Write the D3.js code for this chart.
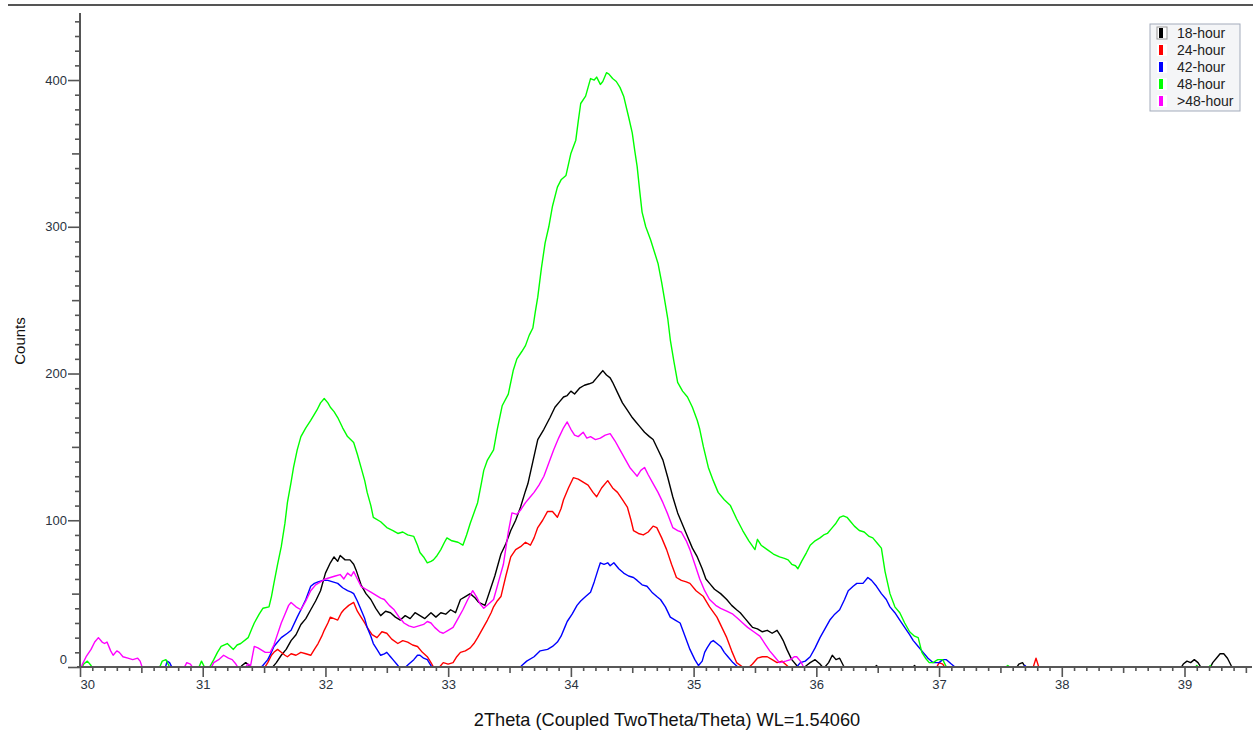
<!DOCTYPE html>
<html>
<head>
<meta charset="utf-8">
<script src="https://cdn.jsdelivr.net/npm/d3@7"></script>
<style>
  body { margin: 0; background: #fff; }
  svg { display: block; font-family: "Liberation Sans", Arial, sans-serif; }
</style>
</head>
<body>
<div id="chart"></div>
<script>
// XRD scans, [2theta, counts]; negative values fall below the axis and are clipped
const hour18 = [[30.0,-4],[31.28,-3],[31.32,1],[31.35,3],[31.38,1],[31.42,-3],[31.55,-2],[31.6,3],[31.64,8],[31.68,12],[31.72,18],[31.76,22],[31.8,29],[31.84,33],[31.88,39],[31.92,45],[31.96,52],[32.0,64],[32.04,71],[32.07,75],[32.1,72],[32.12,76],[32.16,73],[32.2,73],[32.23,70],[32.25,66],[32.29,56],[32.33,50],[32.37,46],[32.41,40],[32.45,35],[32.49,38],[32.53,37],[32.57,34],[32.61,32],[32.65,35],[32.69,33],[32.73,37],[32.77,35],[32.81,33],[32.86,37],[32.9,34],[32.94,37],[32.98,36],[33.02,39],[33.06,37],[33.1,46],[33.14,48],[33.18,50],[33.22,47],[33.25,44],[33.3,42],[33.34,52],[33.38,62],[33.43,77],[33.47,84],[33.51,93],[33.55,100],[33.59,109],[33.63,120],[33.65,125],[33.69,140],[33.73,155],[33.78,162],[33.83,170],[33.87,177],[33.91,181],[33.94,184],[33.97,185],[34.0,188],[34.03,186],[34.07,190],[34.11,192],[34.15,193],[34.18,194],[34.21,197],[34.24,200],[34.26,202],[34.29,199],[34.32,197],[34.34,194],[34.38,187],[34.42,180],[34.46,175],[34.5,170],[34.53,167],[34.56,164],[34.6,160],[34.64,157],[34.67,155],[34.71,148],[34.75,141],[34.79,129],[34.83,116],[34.87,105],[34.91,97],[34.95,89],[34.99,81],[35.03,75],[35.07,67],[35.1,60],[35.13,57],[35.17,53],[35.22,50],[35.27,46],[35.31,42],[35.35,39],[35.38,37],[35.42,33],[35.46,29],[35.48,27],[35.52,26],[35.56,24],[35.6,25],[35.64,23],[35.68,25],[35.71,21],[35.73,18],[35.76,12],[35.8,5],[35.84,1],[35.88,-2],[35.92,1],[35.95,3],[35.99,5],[36.03,2],[36.06,-1],[36.1,3],[36.13,8],[36.16,5],[36.19,6],[36.22,1],[36.25,-3],[36.46,-2],[36.49,1],[36.52,-2],[36.77,-2],[36.8,1],[36.83,-2],[37.62,-2],[37.65,2],[37.68,3],[37.71,-1],[38.96,-2],[38.99,2],[39.02,4],[39.05,3],[39.08,5],[39.11,3],[39.14,-1],[39.2,-2],[39.23,3],[39.26,6],[39.29,9],[39.32,9],[39.35,6],[39.38,1],[39.41,-3],[39.55,-4]];

const hour24 = [[30.0,-4],[31.45,-3],[31.5,-1],[31.53,3],[31.56,8],[31.58,10],[31.61,12],[31.64,10],[31.67,8],[31.69,7],[31.72,9],[31.76,8],[31.8,10],[31.84,9],[31.88,8],[31.91,12],[31.94,16],[31.97,21],[31.99,25],[32.02,30],[32.04,34],[32.07,33],[32.1,32],[32.13,37],[32.15,39],[32.19,42],[32.23,44],[32.26,38],[32.29,34],[32.32,30],[32.34,27],[32.38,22],[32.42,20],[32.46,24],[32.5,23],[32.54,19],[32.59,16],[32.63,18],[32.67,17],[32.71,15],[32.75,14],[32.79,10],[32.83,7],[32.86,3],[32.88,0],[32.91,-2],[32.93,0],[32.96,3],[33.0,2],[33.04,3],[33.07,7],[33.1,10],[33.14,11],[33.18,13],[33.21,16],[33.24,20],[33.28,26],[33.32,32],[33.35,37],[33.37,41],[33.4,45],[33.43,48],[33.47,62],[33.51,75],[33.55,80],[33.59,82],[33.63,85],[33.67,83],[33.7,88],[33.73,95],[33.77,100],[33.81,106],[33.85,106],[33.89,102],[33.92,108],[33.94,114],[33.98,122],[34.02,129],[34.06,128],[34.1,126],[34.14,124],[34.18,119],[34.21,116],[34.25,122],[34.3,127],[34.34,122],[34.38,119],[34.42,114],[34.46,109],[34.49,100],[34.51,93],[34.55,91],[34.59,90],[34.63,92],[34.67,96],[34.7,95],[34.74,88],[34.78,80],[34.82,70],[34.86,61],[34.9,59],[34.94,58],[34.97,57],[35.02,52],[35.08,48],[35.13,41],[35.19,34],[35.23,27],[35.27,20],[35.31,11],[35.35,3],[35.4,0],[35.44,-1],[35.48,2],[35.52,6],[35.56,7],[35.6,7],[35.64,5],[35.68,3],[35.72,4],[35.76,1],[35.8,-2],[36.97,-2],[37.0,3],[37.03,2],[37.06,-2],[37.76,-2],[37.79,6],[37.82,-2],[39.55,-4]];

const hour42 = [[30.0,-4],[30.69,-2],[30.71,4],[30.73,3],[30.76,-2],[31.45,-2],[31.49,1],[31.53,5],[31.56,10],[31.58,14],[31.61,17],[31.64,20],[31.69,23],[31.72,25],[31.77,34],[31.8,39],[31.84,46],[31.88,55],[31.91,57],[31.94,58],[31.98,59],[32.02,59],[32.06,58],[32.1,57],[32.14,54],[32.18,52],[32.21,51],[32.23,50],[32.26,45],[32.29,39],[32.32,33],[32.34,27],[32.37,21],[32.39,16],[32.42,12],[32.45,8],[32.48,9],[32.5,10],[32.53,7],[32.55,5],[32.58,2],[32.61,-1],[32.64,-1],[32.68,2],[32.72,5],[32.75,8],[32.77,8],[32.8,6],[32.83,5],[32.86,1],[32.88,-2],[32.92,-4],[33.57,-2],[33.6,1],[33.64,4],[33.7,7],[33.75,11],[33.81,12],[33.85,14],[33.89,17],[33.92,21],[33.95,27],[33.97,31],[34.01,36],[34.05,42],[34.08,45],[34.12,48],[34.16,51],[34.19,58],[34.22,66],[34.24,71],[34.27,70],[34.3,71],[34.32,69],[34.35,71],[34.39,67],[34.43,64],[34.47,62],[34.51,61],[34.54,59],[34.58,56],[34.62,55],[34.66,51],[34.7,48],[34.73,46],[34.77,41],[34.81,34],[34.85,32],[34.89,30],[34.93,21],[34.97,12],[35.01,5],[35.04,1],[35.07,4],[35.09,10],[35.11,13],[35.14,17],[35.16,18],[35.19,16],[35.22,14],[35.25,10],[35.28,7],[35.32,3],[35.36,0],[35.39,-2],[35.82,-2],[35.85,1],[35.87,3],[35.91,4],[35.95,7],[35.99,13],[36.03,20],[36.07,26],[36.11,32],[36.15,36],[36.19,39],[36.23,46],[36.26,52],[36.3,55],[36.33,57],[36.38,57],[36.42,61],[36.45,59],[36.49,55],[36.53,50],[36.57,46],[36.6,41],[36.64,37],[36.68,32],[36.72,27],[36.76,22],[36.79,18],[36.83,14],[36.87,10],[36.91,6],[36.95,3],[37.0,3],[37.03,5],[37.06,5],[37.1,2],[37.13,0],[37.16,-3],[37.68,-1],[37.7,1],[37.72,-1],[39.55,-4]];

const hour48 = [[30.0,-3],[30.03,2],[30.06,4],[30.09,1],[30.12,-3],[30.64,-2],[30.67,4],[30.7,5],[30.73,0],[30.76,-3],[30.96,-2],[30.99,4],[31.02,-1],[31.05,-1],[31.09,5],[31.12,10],[31.15,14],[31.2,16],[31.25,12],[31.28,15],[31.31,16],[31.37,20],[31.4,26],[31.42,30],[31.46,36],[31.49,40],[31.54,41],[31.56,48],[31.58,57],[31.61,70],[31.64,82],[31.67,98],[31.69,112],[31.72,126],[31.74,136],[31.77,148],[31.8,157],[31.84,163],[31.88,168],[31.93,175],[31.96,180],[31.99,183],[32.02,180],[32.04,177],[32.07,174],[32.1,170],[32.14,163],[32.18,157],[32.23,153],[32.26,145],[32.29,136],[32.32,127],[32.34,119],[32.37,110],[32.39,102],[32.45,99],[32.5,95],[32.55,93],[32.59,91],[32.63,92],[32.67,90],[32.72,89],[32.75,83],[32.77,78],[32.8,75],[32.83,71],[32.86,72],[32.88,73],[32.91,76],[32.94,80],[32.97,85],[32.99,88],[33.03,86],[33.08,85],[33.12,83],[33.15,90],[33.18,98],[33.21,105],[33.24,112],[33.27,125],[33.29,134],[33.32,141],[33.37,148],[33.4,162],[33.44,178],[33.49,186],[33.53,202],[33.56,210],[33.6,215],[33.63,219],[33.66,226],[33.69,231],[33.71,242],[33.73,252],[33.76,272],[33.79,289],[33.82,300],[33.85,314],[33.89,327],[33.92,332],[33.96,335],[34.0,350],[34.04,359],[34.06,372],[34.08,384],[34.12,389],[34.14,395],[34.16,401],[34.19,400],[34.21,402],[34.24,397],[34.26,399],[34.29,405],[34.31,404],[34.34,401],[34.37,399],[34.4,395],[34.43,389],[34.47,375],[34.5,364],[34.52,352],[34.54,341],[34.56,325],[34.58,310],[34.61,300],[34.65,291],[34.68,283],[34.71,275],[34.74,262],[34.76,252],[34.79,237],[34.81,223],[34.84,208],[34.87,194],[34.91,188],[34.95,184],[34.99,177],[35.03,168],[35.05,162],[35.08,150],[35.12,136],[35.16,127],[35.2,119],[35.25,114],[35.3,110],[35.35,101],[35.4,93],[35.45,86],[35.5,80],[35.52,87],[35.55,83],[35.6,80],[35.65,77],[35.7,75],[35.74,74],[35.77,73],[35.8,70],[35.83,69],[35.85,67],[35.88,72],[35.92,78],[35.95,83],[35.99,86],[36.03,88],[36.06,90],[36.09,91],[36.13,95],[36.16,98],[36.19,102],[36.22,103],[36.25,102],[36.28,99],[36.31,96],[36.35,93],[36.39,92],[36.43,89],[36.46,88],[36.5,84],[36.53,81],[36.56,65],[36.6,50],[36.64,41],[36.68,37],[36.72,30],[36.76,24],[36.8,21],[36.83,20],[36.86,10],[36.89,6],[36.92,3],[36.95,3],[36.99,5],[37.03,5],[37.06,0],[37.09,-3],[37.53,-1],[37.56,1],[37.59,-1],[39.08,-1],[39.1,1],[39.12,-1],[39.19,-1],[39.21,1],[39.23,-1],[39.55,-4]];

const hour48plus = [[30.0,-3],[30.02,2],[30.05,7],[30.09,12],[30.12,17],[30.15,20],[30.18,17],[30.2,16],[30.22,17],[30.25,11],[30.27,8],[30.3,11],[30.32,10],[30.35,7],[30.39,6],[30.43,5],[30.47,6],[30.49,4],[30.51,-1],[30.54,-3],[30.84,-2],[30.87,3],[30.9,2],[30.93,-2],[31.06,-2],[31.09,3],[31.13,5],[31.17,8],[31.21,6],[31.24,5],[31.27,2],[31.3,-2],[31.34,-1],[31.37,2],[31.39,1],[31.42,14],[31.45,13],[31.47,12],[31.51,10],[31.55,10],[31.58,15],[31.6,20],[31.64,30],[31.67,36],[31.7,42],[31.72,44],[31.76,41],[31.8,39],[31.84,45],[31.88,52],[31.92,56],[31.96,58],[32.0,60],[32.04,61],[32.08,62],[32.12,63],[32.15,60],[32.18,64],[32.21,62],[32.23,65],[32.26,60],[32.29,55],[32.33,53],[32.37,51],[32.41,49],[32.45,47],[32.48,46],[32.52,42],[32.56,39],[32.6,34],[32.64,30],[32.68,28],[32.72,27],[32.76,28],[32.8,29],[32.83,31],[32.86,30],[32.89,27],[32.93,24],[32.96,23],[33.0,25],[33.04,27],[33.08,33],[33.12,39],[33.16,46],[33.2,52],[33.23,48],[33.26,43],[33.29,40],[33.33,43],[33.37,46],[33.41,58],[33.45,70],[33.49,92],[33.52,105],[33.56,104],[33.59,107],[33.63,112],[33.67,116],[33.7,119],[33.74,124],[33.78,130],[33.82,139],[33.86,148],[33.9,156],[33.94,163],[33.97,167],[34.0,162],[34.03,158],[34.06,157],[34.1,160],[34.13,156],[34.16,157],[34.2,155],[34.24,156],[34.28,158],[34.32,159],[34.36,154],[34.4,148],[34.44,142],[34.48,136],[34.51,133],[34.54,130],[34.57,134],[34.6,136],[34.63,131],[34.67,125],[34.71,119],[34.75,112],[34.79,104],[34.83,95],[34.87,93],[34.9,92],[34.94,86],[34.97,80],[35.01,70],[35.05,60],[35.09,52],[35.13,46],[35.18,42],[35.22,40],[35.27,38],[35.32,36],[35.36,33],[35.4,30],[35.44,27],[35.49,24],[35.54,21],[35.58,16],[35.62,11],[35.66,7],[35.7,3],[35.75,4],[35.79,5],[35.82,7],[35.84,7],[35.87,4],[35.89,1],[35.92,-3],[39.55,-4]];

const seriesNames = ["18-hour", "24-hour", "42-hour", "48-hour", ">48-hour"];
const seriesColors = ["#000000", "#ff0000", "#0000ff", "#00ff00", "#ff00ff"];
const allSeries = [hour18, hour24, hour42, hour48, hour48plus];
const xMajorTicks = [30, 31, 32, 33, 34, 35, 36, 37, 38, 39];
const yMajorTicks = [0, 100, 200, 300, 400];

const W = 1253, H = 734;
const svg = d3.select("#chart").append("svg")
    .attr("width", W).attr("height", H);
svg.append("rect").attr("width", W).attr("height", H).attr("fill", "#fff");

// frame line at the very top
svg.append("line")
    .attr("x1", 8).attr("x2", W).attr("y1", 5).attr("y2", 5)
    .attr("stroke", "#555").attr("stroke-width", 2);

const x = d3.scaleLinear().domain([30, 39.55]).range([80, 1252]);
const y = d3.scaleLinear().domain([0, 445]).range([667, 14]);

svg.append("clipPath").attr("id", "plot-clip")
    .append("rect").attr("x", 80).attr("y", 0).attr("width", 1175).attr("height", 667);

const line = d3.line()
    .x(d => x(d[0]))
    .y(d => y(d[1]));

const plot = svg.append("g").attr("clip-path", "url(#plot-clip)");
allSeries.forEach((s, i) => {
    plot.append("path")
        .attr("d", line(s))
        .attr("fill", "none")
        .attr("stroke", seriesColors[i])
        .attr("stroke-width", 1.4)
        .attr("stroke-linejoin", "round");
});

// x axis: minor every 0.1, medium at .5, major at integers
const xMinor = d3.range(301, 396).map(v => v / 10).filter(v => Math.abs(v * 2 - Math.round(v * 2)) > 0.01);
const xHalf = d3.range(30.5, 39.6, 1);
const gx = svg.append("g").attr("transform", "translate(0,667)");
gx.append("g").call(d3.axisBottom(x).tickValues(xMinor).tickSize(4).tickFormat("").tickSizeOuter(0));
gx.append("g").call(d3.axisBottom(x).tickValues(xHalf).tickSize(6).tickFormat("").tickSizeOuter(0));
gx.append("g").attr("class", "major")
    .call(d3.axisBottom(x).tickValues(xMajorTicks).tickSize(10).tickPadding(3).tickFormat(d3.format("d")).tickSizeOuter(0));
gx.selectAll(".domain").attr("d", `M77,0H1252`);
gx.selectAll("line, path").attr("stroke", "#555").attr("stroke-width", 1.6);
gx.selectAll(".major text")
    .attr("font-size", 13).attr("fill", "#2a3340")
    .attr("font-family", "Liberation Sans, Arial, sans-serif")
    .filter(d => d === 30).attr("text-anchor", "start").attr("x", 0);

// y axis: minor every 10, medium at 50, major at 100
const yMinor = d3.range(10, 441, 10).filter(v => v % 50 !== 0);
const yHalf = [50, 150, 250, 350];
const gy = svg.append("g").attr("transform", "translate(80,0)");
gy.append("g").call(d3.axisLeft(y).tickValues(yMinor).tickSize(5).tickFormat("").tickSizeOuter(0));
gy.append("g").call(d3.axisLeft(y).tickValues(yHalf).tickSize(8).tickFormat("").tickSizeOuter(0));
gy.append("g").attr("class", "major")
    .call(d3.axisLeft(y).tickValues(yMajorTicks).tickSize(12).tickPadding(1).tickSizeOuter(0));
gy.selectAll(".domain").attr("d", "M0,13V668");
gy.selectAll("line, path").attr("stroke", "#555").attr("stroke-width", 1.6);
gy.selectAll(".major text")
    .attr("font-size", 13).attr("fill", "#2a3340")
    .attr("font-family", "Liberation Sans, Arial, sans-serif")
    .filter(d => d === 0).attr("y", -8);

// axis titles
svg.append("text")
    .attr("transform", "translate(25,341) rotate(-90)")
    .attr("text-anchor", "middle")
    .attr("font-size", 15).attr("fill", "#111")
    .text("Counts");
svg.append("text")
    .attr("x", 667).attr("y", 726)
    .attr("text-anchor", "middle")
    .attr("font-size", 18.2).attr("fill", "#111")
    .text("2Theta (Coupled TwoTheta/Theta) WL=1.54060");

// legend
const legend = svg.append("g");
legend.append("rect")
    .attr("x", 1150).attr("y", 24).attr("width", 90).attr("height", 87)
    .attr("fill", "#f4f5f7").attr("stroke", "#a3abbb").attr("stroke-width", 1);
seriesNames.forEach((name, i) => {
    const cy = 33 + i * 17;
    legend.append("rect")
        .attr("x", 1157).attr("y", cy - 6).attr("width", 10).attr("height", 12)
        .attr("fill", "#fff").attr("stroke", i === 0 ? "#999" : "none");
    legend.append("rect")
        .attr("x", 1159).attr("y", cy - 5).attr("width", 4).attr("height", 10)
        .attr("fill", seriesColors[i]);
    legend.append("text")
        .attr("x", 1177).attr("y", cy)
        .attr("dy", "0.35em")
        .attr("font-size", 14).attr("fill", "#222")
        .text(name);
});
</script>
</body>
</html>
